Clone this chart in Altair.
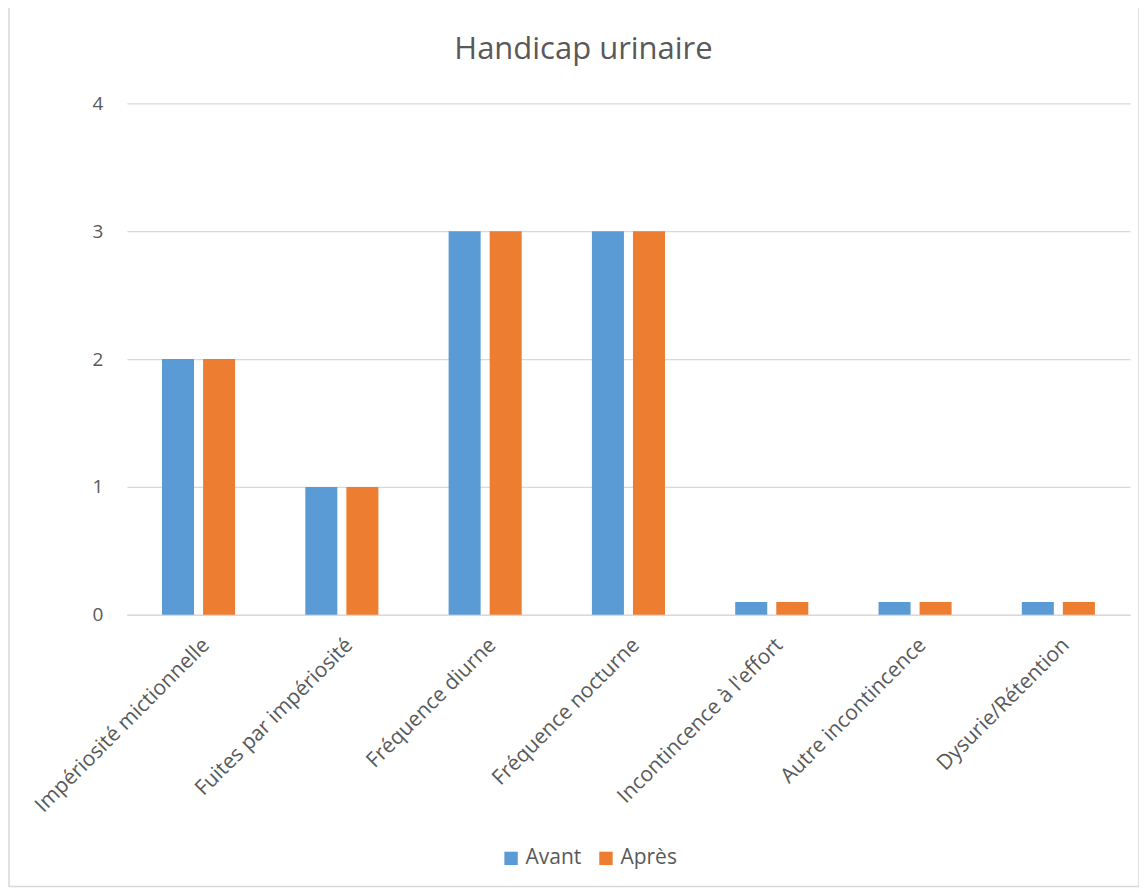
import altair as alt
import pandas as pd

title_text = "Handicap urinaire"
categories = ["Impériosité mictionnelle", "Fuites par impériosité", "Fréquence diurne",
              "Fréquence nocturne", "Incontincence à l'effort", "Autre incontincence",
              "Dysurie/Rétention"]
avant = [2, 1, 3, 3, 0.1, 0.1, 0.1]
apres = [2, 1, 3, 3, 0.1, 0.1, 0.1]
series = ["Avant", "Après"]
colors = ["#5B9BD5", "#ED7D31"]

rows = []
for c, a, b in zip(categories, avant, apres):
    rows.append({"cat": c, "serie": "Avant", "val": a})
    rows.append({"cat": c, "serie": "Après", "val": b})
df = pd.DataFrame(rows)

FONT = "Open Sans"
GREY = "#595959"

bars = alt.Chart(df).mark_bar().encode(
    x=alt.X("cat:N", sort=categories, title=None,
            scale=alt.Scale(paddingInner=0.49, paddingOuter=0.245),
            axis=alt.Axis(labelAngle=-45, labelFontSize=21, labelColor=GREY, labelFont=FONT,
                          ticks=False, domainColor="#d9d9d9", domainWidth=1.5,
                          labelPadding=19, labelLimit=400)),
    xOffset=alt.XOffset("serie:N", sort=series, scale=alt.Scale(paddingInner=0.22)),
    y=alt.Y("val:Q", title=None,
            scale=alt.Scale(domain=[0, 4]),
            axis=alt.Axis(values=[0, 1, 2, 3, 4], labelFontSize=19, labelColor=GREY, labelFont=FONT,
                          ticks=False, domain=False, gridColor="#d9d9d9", gridWidth=1.2,
                          labelPadding=24)),
    color=alt.Color("serie:N", sort=series,
                    scale=alt.Scale(domain=series, range=colors),
                    legend=alt.Legend(title=None, orient="none", direction="horizontal",
                                      legendX=374, legendY=745, symbolType="square",
                                      symbolSize=180, symbolStrokeWidth=0,
                                      labelFontSize=21, labelColor=GREY, labelFont=FONT,
                                      columnPadding=14, labelOffset=4)),
)

frame = alt.Chart(pd.DataFrame({"a": [0]})).mark_rect(
    fill=None, stroke="#d9d9d9", strokeWidth=1.5
).encode(
    x=alt.value(-118), x2=alt.value(1013), y=alt.value(-97), y2=alt.value(784)
)

title = alt.Chart(pd.DataFrame({"t": [title_text]})).mark_text(
    font=FONT, fontSize=31, color=GREY, align="center", baseline="alphabetic"
).encode(
    x=alt.value(457), y=alt.value(-44), text="t:N"
)

chart = alt.layer(frame, bars, title).properties(
    width=1004, height=512,
    padding={"left": 119, "top": 95, "right": 9, "bottom": 275},
    autosize=alt.AutoSizeParams(type="none"),
).configure_view(stroke=None)

chart.save("out.html", embed_options={"renderer": "svg", "actions": False})
